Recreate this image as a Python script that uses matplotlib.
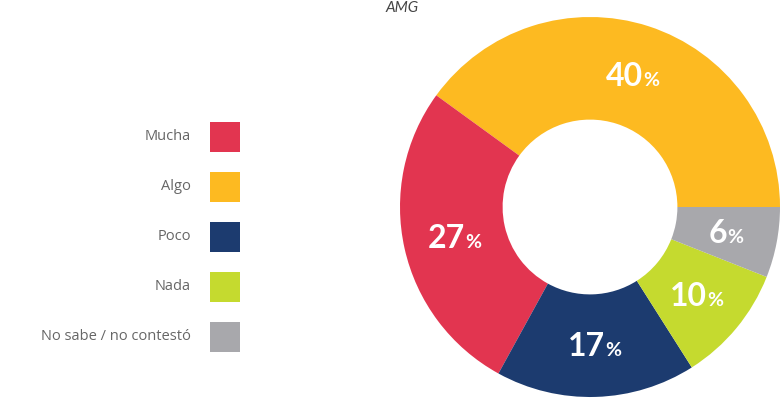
import matplotlib.pyplot as plt
from matplotlib.patches import Rectangle
import numpy as np

# Datos
categorias = ["Mucha", "Algo", "Poco", "Nada", "No sabe / no contestó"]
valores = [27, 40, 17, 10, 6]
colores = ["#E23550", "#FDBA21", "#1C3B6F", "#C5DA2F", "#A8A8AC"]
orden_dona = [1, 0, 2, 3, 4]  # orden en que aparecen en la dona (antihorario desde las 3)
titulo = "AMG"

plt.rcParams['font.family'] = ['Lato', 'DejaVu Sans']

W, H = 783, 400
fig = plt.figure(figsize=(W / 100, H / 100), dpi=100)

# Dona: centro (590, 207) px, radio 190 px
cx, cy, r = 590, 207, 190
ax = fig.add_axes([(cx - r) / W, (H - cy - r) / H, 2 * r / W, 2 * r / H])
vals = [valores[i] for i in orden_dona]
cols = [colores[i] for i in orden_dona]
wedges, _ = ax.pie(vals, colors=cols, startangle=0, counterclock=True,
                   radius=1, wedgeprops=dict(width=0.54, linewidth=0))
ax.set_xlim(-1, 1)
ax.set_ylim(-1, 1)
ax.set_aspect('equal')
ax.axis('off')

# Etiquetas de porcentaje (el signo % más pequeño)
fig.canvas.draw()
renderer = fig.canvas.get_renderer()
dist = 0.73
for w, v in zip(wedges, vals):
    ang = np.deg2rad((w.theta1 + w.theta2) / 2)
    x, y = dist * np.cos(ang), dist * np.sin(ang)
    t_num = ax.text(x, y, str(v), fontsize=23, color='white', weight='bold',
                    ha='right', va='baseline')
    t_pct = ax.text(x, y, "%", fontsize=14, color='white', weight='bold',
                    ha='left', va='baseline')
    bn = t_num.get_window_extent(renderer)
    bp = t_pct.get_window_extent(renderer)
    total = bn.width + bp.width
    # centrar el conjunto en la posición
    px, py = ax.transData.transform((x, y))
    shift_x = bn.width - total / 2
    base_y = py - bn.height * 0.36
    xn, yn = ax.transData.inverted().transform((px + shift_x, base_y))
    t_num.set_position((xn, yn))
    t_pct.set_position((xn, yn))

# Título
fig.text(402 / W, 1 - 12 / H, titulo, fontsize=11, style='italic', color='#444444',
         ha='center', va='baseline')

# Leyenda
y0, paso = 137, 50
for i, (cat, col) in enumerate(zip(categorias, colores)):
    yc = y0 + i * paso
    fig.patches.append(Rectangle((210 / W, (H - yc - 15) / H), 30 / W, 30 / H,
                                 transform=fig.transFigure, facecolor=col,
                                 edgecolor='none'))
    fig.text(191 / W, (H - yc) / H, cat, fontsize=10.5, color='#666666',
             family=['Open Sans', 'DejaVu Sans'], ha='right', va='center')

fig.savefig("out.png", dpi=100)
